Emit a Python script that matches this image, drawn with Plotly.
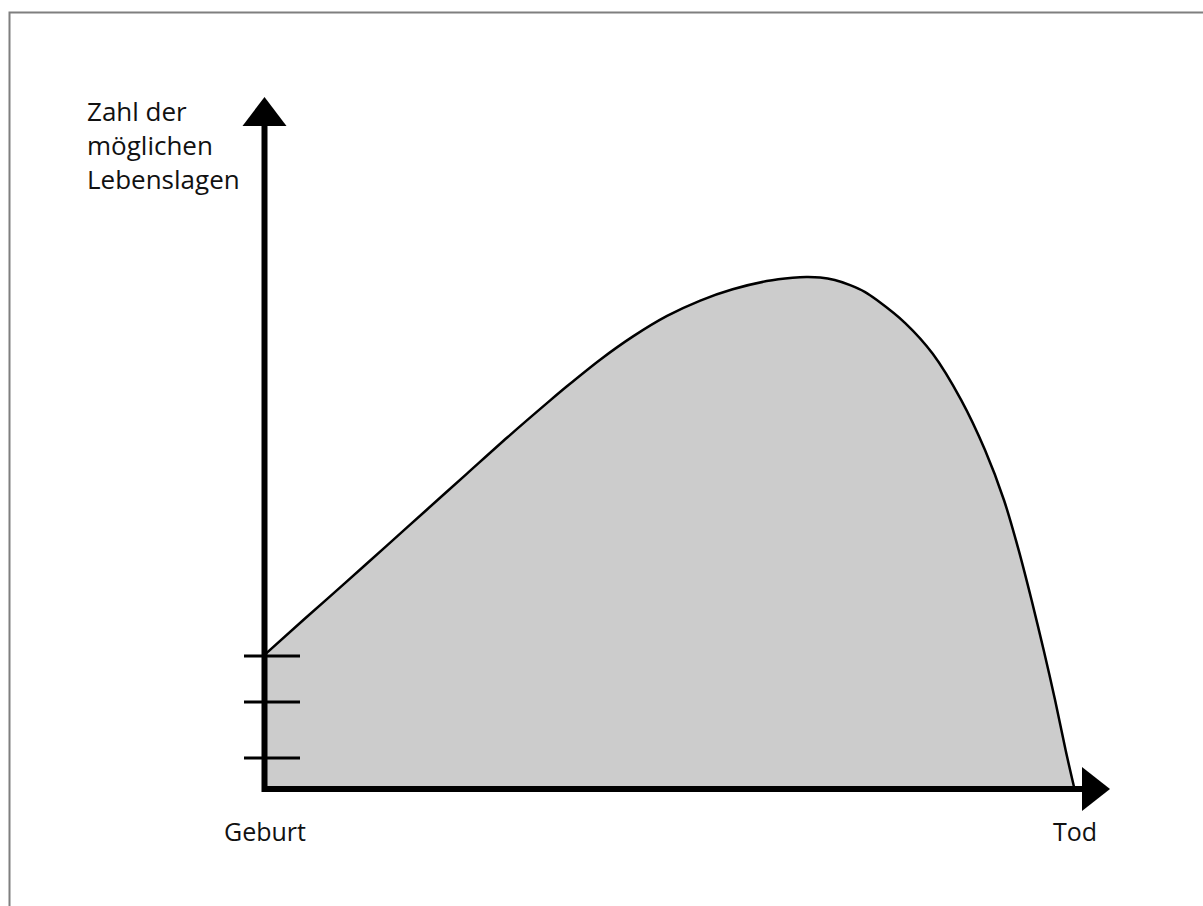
import plotly.graph_objects as go

# Lebensverlauf: x = Lebenszeit (0 = Geburt, 100 = Tod), y = Zahl der möglichen Lebenslagen (Peak = 100)
life_x = [0, 5, 10, 15, 20, 25, 30, 35.2, 37.3, 41.4, 45.5, 49.7, 53.8, 57.8, 62.0,
          65.2, 66.9, 68.6, 70.4, 72.3, 74.1, 75.6, 79.1, 82.5, 86.0, 88.95, 91.3, 93.1,
          94.7, 96.2, 97.6, 98.9, 100]
life_y = [26.2, 33.3, 40.3, 47.4, 54.5, 61.6, 68.7, 75.8, 78.6, 83.8, 88.4, 92.4, 95.4, 97.6, 99.2,
          99.85, 100, 99.9, 99.4, 98.4, 97.1, 95.5, 91.0, 85.0, 76.0, 66.2, 56.4, 46.7,
          36.9, 27.1, 17.4, 7.6, 0]
tick_levels = [6.05, 17.0, 26.0]
x_labels = ["Geburt", "Tod"]
x_label_pos = [0, 100]
y_title = "Zahl der<br>möglichen<br>Lebenslagen"

W, H = 1203, 906
PX_X, PX_Y = 8.1, 5.12           # pixels per unit
X0_PX, Y0_PX = 264.5, 789        # pixel position of origin

def ux(px):
    return (px - X0_PX) / PX_X

def uy(py):
    return (Y0_PX - py) / PX_Y

fig = go.Figure()
fig.add_trace(go.Scatter(
    x=life_x, y=life_y, mode="lines",
    line=dict(color="black", width=2.5, shape="spline", smoothing=0.8),
    fill="tozeroy", fillcolor="#cccccc", hoverinfo="skip", showlegend=False))

shapes = []
# border
shapes.append(dict(type="rect", xref="paper", yref="paper", x0=9.5 / W, x1=1.02, y0=-0.02, y1=1 - 12.5 / H,
                   line=dict(color="#7f7f7f", width=2), fillcolor="rgba(0,0,0,0)", layer="below"))
# ticks
for t in tick_levels:
    shapes.append(dict(type="line", x0=ux(244), x1=ux(300), y0=t, y1=t, line=dict(color="black", width=3)))
# axes
shapes.append(dict(type="line", x0=0, x1=0, y0=uy(792), y1=uy(124), line=dict(color="black", width=6)))
shapes.append(dict(type="line", x0=ux(262), x1=ux(1084), y0=0, y1=0, line=dict(color="black", width=6)))
# arrowheads
shapes.append(dict(type="path",
                   path=f"M {ux(242.5)},{uy(126)} L {ux(286.5)},{uy(126)} L {ux(264.5)},{uy(97)} Z",
                   fillcolor="black", line=dict(color="black", width=0)))
shapes.append(dict(type="path",
                   path=f"M {ux(1082)},{uy(767)} L {ux(1082)},{uy(811)} L {ux(1110)},{uy(789)} Z",
                   fillcolor="black", line=dict(color="black", width=0)))

annotations = []
for lab, pos in zip(x_labels, x_label_pos):
    annotations.append(dict(x=pos, y=uy(831), text=lab, showarrow=False, xanchor="center", yanchor="middle",
                            font=dict(family="Open Sans", size=25, color="#111111")))
annotations.append(dict(x=ux(85), y=uy(91), text=y_title, showarrow=False, xanchor="left", yanchor="top",
                        align="left", font=dict(family="Open Sans", size=26, color="#111111")))

fig.update_layout(
    width=W, height=H, margin=dict(l=0, r=0, t=0, b=0),
    paper_bgcolor="white", plot_bgcolor="white",
    xaxis=dict(range=[ux(0), ux(W)], visible=False, fixedrange=True),
    yaxis=dict(range=[uy(H), uy(0)], visible=False, fixedrange=True),
    shapes=shapes, annotations=annotations, showlegend=False,
)

fig.write_html("out.html", config={"displayModeBar": False},
               post_script="document.body.style.margin='0';document.body.style.overflow='hidden';")
